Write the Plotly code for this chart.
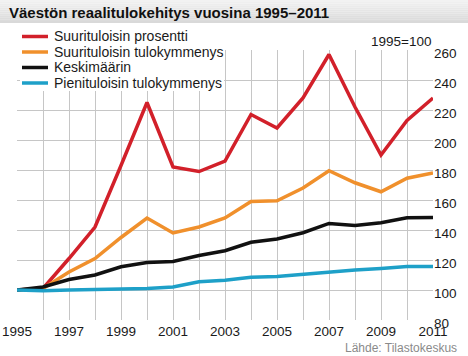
import plotly.graph_objects as go

years = list(range(1995, 2012))
names = ["Suurituloisin prosentti", "Suurituloisin tulokymmenys", "Keskimäärin", "Pienituloisin tulokymmenys"]
colors = ["#d2202a", "#f0902c", "#111111", "#1ea0c8"]

top_percent = [100, 101, 121, 142, 183, 225, 182, 179, 186, 217, 208, 228, 257, 222, 190, 213, 228]
top_decile = [100, 101, 112, 121, 135, 148, 138, 142, 148, 159, 159.5, 168, 179.5, 171.5, 165.5, 174.5, 178]
average = [100, 102, 107, 110, 115.5, 118.3, 119, 123, 126.2, 131.8, 134, 138.2, 144.4, 143, 144.9, 148.2, 148.4]
bottom_decile = [100, 99.5, 100, 100.3, 100.5, 101, 102, 105.5, 106.5, 108.5, 109, 110.4, 112.2, 113.3, 114.4, 115.6, 115.6]
series = [top_percent, top_decile, average, bottom_decile]

x_tick_text = [str(y) if y % 2 == 1 else "" for y in years]
y_ticks = list(range(80, 261, 20))

title = "Väestön reaalitulokehitys vuosina 1995–2011"
base_note = "1995=100"
source = "Lähde: Tilastokeskus"

FONT = "Liberation Sans, Arial, sans-serif"
W, H = 468, 356
L, R, T, B = 17, 35, 50, 36

def px_x(p):
    return (p - L) / (W - L - R)

def px_y(p):
    return (H - B - p) / (H - T - B)

fig = go.Figure()
for vals, name, col in zip(series, names, colors):
    fig.add_trace(go.Scatter(x=years, y=vals, mode="lines", name=name,
                             line=dict(color=col, width=3.5), showlegend=False,
                             hoverinfo="skip"))

shapes = []
# title bar gradient
top_c, bot_c = 0xf2, 0xd9
n = 12
bar_h = 23
for i in range(n):
    c = int(top_c + (bot_c - top_c) * i / (n - 1))
    shapes.append(dict(type="rect", xref="paper", yref="paper",
                       x0=px_x(0), x1=px_x(W), y0=px_y(bar_h * (i + 1) / n), y1=px_y(bar_h * i / n),
                       fillcolor=f"rgb({c},{c},{c})", line=dict(width=0), layer="above"))
# legend white box
shapes.append(dict(type="rect", xref="paper", yref="paper",
                   x0=px_x(20), x1=px_x(224), y0=px_y(91), y1=px_y(27),
                   fillcolor="white", line=dict(width=0), layer="above"))
annotations = []
leg_y = [36.5, 52, 67.5, 83]
for name, col, ly in zip(names, colors, leg_y):
    shapes.append(dict(type="line", xref="paper", yref="paper",
                       x0=px_x(22), x1=px_x(48), y0=px_y(ly), y1=px_y(ly),
                       line=dict(color=col, width=3.5), layer="above"))
    annotations.append(dict(text=name, xref="paper", yref="paper",
                            x=px_x(52), y=px_y(ly), xanchor="left", yanchor="middle",
                            showarrow=False, font=dict(family=FONT, size=14, color="#1a1a1a")))

annotations.append(dict(text=f"<b>{title}</b>", xref="paper", yref="paper",
                        x=px_x(7), y=px_y(12.5), xanchor="left", yanchor="middle",
                        showarrow=False, font=dict(family=FONT, size=15, color="#111111")))
annotations.append(dict(text=base_note, xref="paper", yref="paper",
                        x=px_x(433), y=px_y(42), xanchor="right", yanchor="middle",
                        showarrow=False, font=dict(family=FONT, size=13.5, color="#1a1a1a")))
annotations.append(dict(text=source, xref="paper", yref="paper",
                        x=px_x(459), y=px_y(348), xanchor="right", yanchor="middle",
                        showarrow=False, font=dict(family=FONT, size=12, color="#8a8a8a")))

fig.update_layout(
    width=W, height=H,
    margin=dict(l=L, r=R, t=T, b=B, pad=0, autoexpand=False),
    paper_bgcolor="white", plot_bgcolor="white",
    font=dict(family=FONT, size=13.5, color="#1a1a1a"),
    shapes=shapes, annotations=annotations,
    xaxis=dict(range=[1995, 2011], tickvals=years, ticktext=x_tick_text, automargin=False,
               showgrid=True, gridcolor="#c6c6c6", gridwidth=1, zeroline=False,
               showline=False, ticks="", tickfont=dict(size=13.5), ticklabelstandoff=1),
    yaxis=dict(range=[80, 260], tickvals=y_ticks, side="right", automargin=False,
               showgrid=True, gridcolor="#c6c6c6", gridwidth=1, zeroline=False,
               showline=False, ticks="", tickfont=dict(size=13.5), ticklabelshift=3),
)

fig.write_html("out.html", config={"displayModeBar": False},
               post_script="document.body.style.margin='0';document.body.style.padding='0';")
